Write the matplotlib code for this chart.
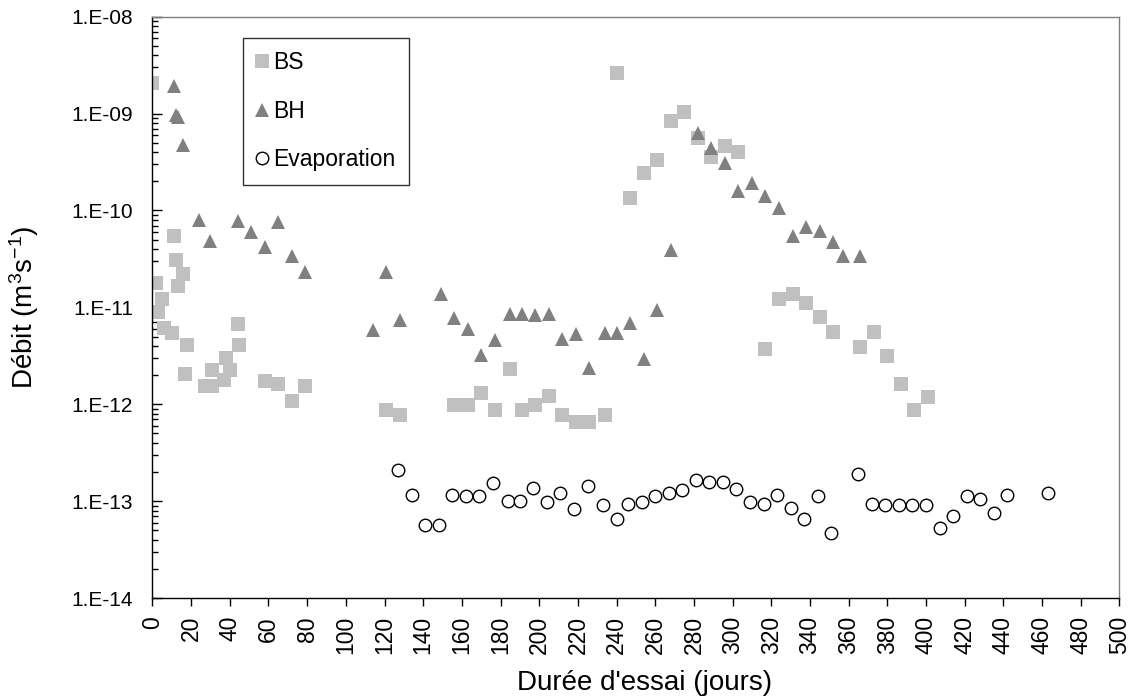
import math
import matplotlib
matplotlib.use('Agg')
import matplotlib.pyplot as plt
from matplotlib.ticker import FixedLocator, LogLocator, FuncFormatter, NullFormatter

plt.rcParams['font.family'] = ['Liberation Sans', 'DejaVu Sans']
plt.rcParams['mathtext.default'] = 'regular'

# ---- données ----
bs_jours = [0, 2, 3, 5, 6, 10, 11, 12, 13, 16, 17, 18, 27, 31, 31, 37, 38, 40, 44, 45,
            58, 65, 72, 79, 121, 128, 156, 163, 170, 177, 185, 191, 198, 205, 212, 219,
            226, 234, 240, 247, 254, 261, 268, 275, 282, 289, 296, 303, 317, 324, 331,
            338, 345, 352, 366, 373, 380, 387, 394, 401]
bs_debit = [2.08e-9, 1.79e-11, 9.06e-12, 1.23e-11, 6.18e-12, 5.44e-12, 5.43e-11, 3.07e-11,
            1.65e-11, 2.23e-11, 2.04e-12, 4.06e-12, 1.53e-12, 2.27e-12, 1.53e-12, 1.80e-12,
            3.03e-12, 2.27e-12, 6.81e-12, 4.06e-12, 1.74e-12, 1.63e-12, 1.08e-12, 1.53e-12,
            8.79e-13, 7.67e-13, 9.75e-13, 9.75e-13, 1.31e-12, 8.79e-13, 2.33e-12, 8.79e-13,
            9.75e-13, 1.21e-12, 7.67e-13, 6.55e-13, 6.55e-13, 7.67e-13, 2.60e-9, 1.36e-10,
            2.41e-10, 3.36e-10, 8.37e-10, 1.04e-9, 5.55e-10, 3.58e-10, 4.62e-10, 4.03e-10,
            3.69e-12, 1.21e-11, 1.37e-11, 1.11e-11, 7.96e-12, 5.57e-12, 3.90e-12, 5.57e-12,
            3.15e-12, 1.63e-12, 8.79e-13, 1.19e-12]

bh_jours = [11, 12, 13, 16, 24, 30, 44, 51, 58, 65, 72, 79, 114, 121, 128, 149, 156, 163,
            170, 177, 185, 191, 198, 205, 212, 219, 226, 234, 240, 247, 254, 261, 268, 282,
            289, 296, 303, 310, 317, 324, 331, 338, 345, 352, 357, 366]
bh_debit = [1.92e-9, 9.6e-10, 9.2e-10, 4.73e-10, 8.07e-11, 4.85e-11, 7.81e-11, 6.01e-11,
            4.15e-11, 7.62e-11, 3.37e-11, 2.32e-11, 5.90e-12, 2.32e-11, 7.36e-12, 1.39e-11,
            7.85e-12, 6.04e-12, 3.20e-12, 4.57e-12, 8.63e-12, 8.63e-12, 8.28e-12, 8.49e-12,
            4.68e-12, 5.36e-12, 2.37e-12, 5.44e-12, 5.44e-12, 6.90e-12, 2.91e-12, 9.33e-12,
            3.95e-11, 6.34e-10, 4.37e-10, 3.10e-10, 1.58e-10, 1.93e-10, 1.41e-10, 1.07e-10,
            5.43e-11, 6.78e-11, 6.15e-11, 4.74e-11, 3.37e-11, 3.37e-11]

evap_jours = [127, 134, 141, 148, 155, 162, 169, 176, 184, 190, 197, 204, 211, 218, 225,
              233, 240, 246, 253, 260, 267, 274, 281, 288, 295, 302, 309, 316, 323, 330,
              337, 344, 351, 365, 372, 379, 386, 393, 400, 407, 414, 421, 428, 435, 442, 463]
evap_debit = [2.11e-13, 1.16e-13, 5.61e-14, 5.61e-14, 1.16e-13, 1.12e-13, 1.12e-13, 1.55e-13,
              1.00e-13, 1.00e-13, 1.36e-13, 9.77e-14, 1.22e-13, 8.34e-14, 1.45e-13, 9.04e-14,
              6.58e-14, 9.25e-14, 9.77e-14, 1.12e-13, 1.21e-13, 1.31e-13, 1.64e-13, 1.57e-13,
              1.57e-13, 1.34e-13, 9.77e-14, 9.40e-14, 1.16e-13, 8.47e-14, 6.58e-14, 1.12e-13,
              4.67e-14, 1.92e-13, 9.25e-14, 9.04e-14, 9.04e-14, 9.04e-14, 9.04e-14, 5.27e-14,
              6.97e-14, 1.12e-13, 1.06e-13, 7.52e-14, 1.17e-13, 1.21e-13]

x_ticks = list(range(0, 501, 20))

fig = plt.figure(figsize=(11.31, 6.97), dpi=100)
ax = fig.add_axes([0.1348, 0.142, 0.8549, 0.834])

ax.plot(bs_jours, bs_debit, linestyle='none', marker='s', markersize=10,
        color='#C0C0C0', markeredgewidth=0, label='BS')
ax.plot(bh_jours, bh_debit, linestyle='none', marker='^', markersize=10,
        color='#808080', markeredgewidth=0, label='BH')
ax.plot(evap_jours, evap_debit, linestyle='none', marker='o', markersize=9,
        markerfacecolor='white', markeredgecolor='black', markeredgewidth=1.0,
        label='Evaporation')

ax.set_yscale('log')
ax.set_ylim(1e-14, 1e-8)
ax.set_xlim(0, 500)

# axe x : graduations tous les 20 jours, texte vertical
ax.xaxis.set_major_locator(FixedLocator(x_ticks))
ax.tick_params(axis='x', direction='out', length=6, width=1, labelsize=16.5,
               labelrotation=90, pad=7)

# axe y : log, étiquettes façon Excel "1.E-08"
ax.yaxis.set_major_locator(LogLocator(base=10, numticks=10))
ax.yaxis.set_minor_locator(LogLocator(base=10, subs=range(2, 10), numticks=20))
ax.yaxis.set_major_formatter(FuncFormatter(lambda v, p: '1.E-%02d' % round(-math.log10(v))))
ax.yaxis.set_minor_formatter(NullFormatter())
ax.tick_params(axis='y', which='major', direction='in', length=7, width=1, labelsize=15, pad=14)
ax.tick_params(axis='y', which='minor', direction='in', length=4, width=1)

for s in ['top', 'right']:
    ax.spines[s].set_color('#808080')
for s in ['left', 'bottom']:
    ax.spines[s].set_color('black')
for s in ax.spines.values():
    s.set_linewidth(1.0)

ax.set_xlabel("Durée d'essai (jours)", fontsize=20)
ax.xaxis.set_label_coords(0.509, -0.123)
ax.set_ylabel('Débit (m$^3$s$^{-1}$)', fontsize=20)
ax.yaxis.set_label_coords(-0.115, 0.5)

leg = ax.legend(loc='upper left', bbox_to_anchor=(0.094, 0.964), borderaxespad=0,
                fontsize=16.5, frameon=True, fancybox=False, edgecolor='black',
                handlelength=0.4, handletextpad=0.3, labelspacing=1.1,
                borderpad=0.6, numpoints=1)
leg.get_frame().set_linewidth(1.0)

fig.savefig('out.png', dpi=100, facecolor='white')
